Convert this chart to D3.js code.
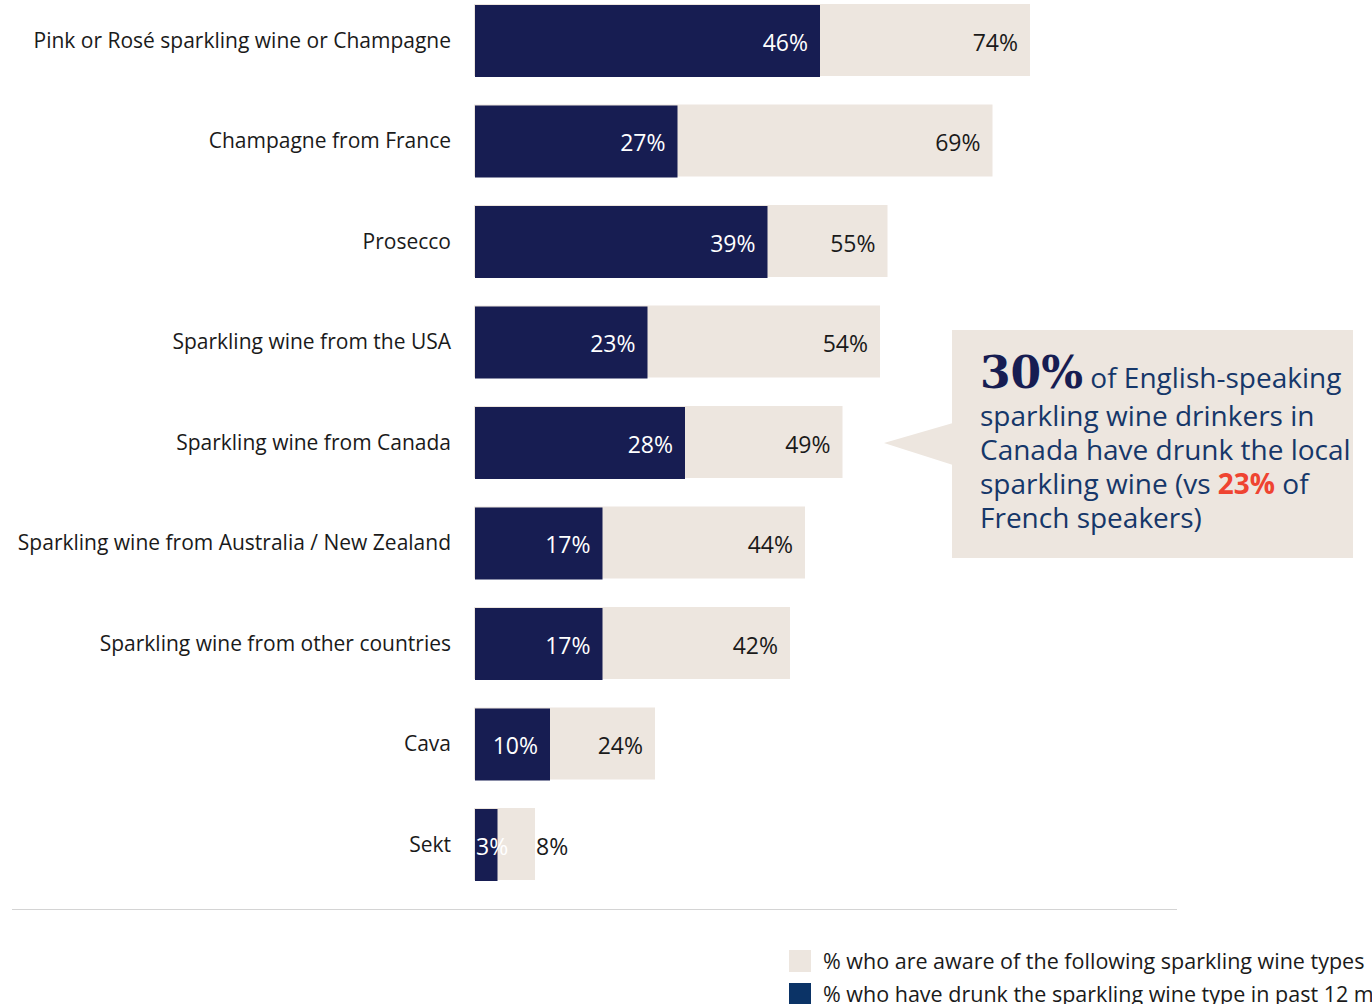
<!DOCTYPE html>
<html>
<head>
<meta charset="utf-8">
<script src="https://cdn.jsdelivr.net/npm/d3@7"></script>
<style>
  html, body { margin: 0; padding: 0; background: #fff; }
  svg { display: block; font-family: "Open Sans", "Noto Sans", sans-serif; }
</style>
</head>
<body>
<svg id="chart" width="1372" height="1004"></svg>
<script>
// Sparkling wine types, ordered by awareness
const categories = [
  "Pink or Rosé sparkling wine or Champagne",
  "Champagne from France",
  "Prosecco",
  "Sparkling wine from the USA",
  "Sparkling wine from Canada",
  "Sparkling wine from Australia / New Zealand",
  "Sparkling wine from other countries",
  "Cava",
  "Sekt"
];
// % who are aware of each type
const aware = [74, 69, 55, 54, 49, 44, 42, 24, 8];
// % who have drunk each type in the past 12 months
const drunk = [46, 27, 39, 23, 28, 17, 17, 10, 3];

const legendLabels = [
  "% who are aware of the following sparkling wine types",
  "% who have drunk the sparkling wine type in past 12 months"
];

const calloutLines = [
  [{t: "30%", big: true}, {t: " of English-speaking"}],
  [{t: "sparkling wine drinkers in"}],
  [{t: "Canada have drunk the local"}],
  [{t: "sparkling wine (vs "}, {t: "23%", red: true}, {t: " of"}],
  [{t: "French speakers)"}]
];
const calloutBaselines = [388, 426, 460, 494, 528];

const COL_DARK = "#171d52";
const COL_LIGHT = "#ede6df";
const COL_LEGEND_DARK = "#0b3366";
const COL_TEXT = "#1a1a1a";
const COL_NAVY = "#163769";
const COL_RED = "#ef4431";

const svg = d3.select("#chart");

const x = d3.scaleLinear().domain([0, 100]).range([475, 1225]);
const y = d3.scaleBand()
  .domain(categories)
  .range([4.5, 880.5])
  .paddingInner(28.5 / 100.5)
  .paddingOuter(0);

const rows = categories.map((c, i) => ({ c, aware: aware[i], drunk: drunk[i] }));

const g = svg.append("g");

// awareness bars (behind)
g.selectAll("rect.aware").data(rows).join("rect")
  .attr("class", "aware")
  .attr("x", x(0) - 1)
  .attr("y", d => y(d.c) - 0.5)
  .attr("width", d => x(d.aware) - x(0) + 1)
  .attr("height", y.bandwidth())
  .attr("fill", COL_LIGHT);

// consumption bars (front)
g.selectAll("rect.drunk").data(rows).join("rect")
  .attr("class", "drunk")
  .attr("x", x(0))
  .attr("y", d => y(d.c) + 0.5)
  .attr("width", d => x(d.drunk) - x(0))
  .attr("height", y.bandwidth())
  .attr("fill", COL_DARK);

// category labels
g.selectAll("text.cat").data(rows).join("text")
  .attr("class", "cat")
  .attr("x", 451)
  .attr("y", d => y(d.c) + y.bandwidth() / 2)
  .attr("dy", "0.35em")
  .attr("text-anchor", "end")
  .attr("font-size", 21)
  .attr("fill", COL_TEXT)
  .text(d => d.c);

// value labels on the dark bars
g.selectAll("text.vd").data(rows).join("text")
  .attr("class", "vd")
  .attr("y", d => y(d.c) + y.bandwidth() / 2 + 2)
  .attr("dy", "0.35em")
  .attr("text-anchor", "end")
  .attr("font-size", 23)
  .attr("fill", "#ffffff")
  .text(d => d.drunk + "%")
  .each(function(d) {
    const w = this.getComputedTextLength();
    const px = Math.max(x(d.drunk) - 12, x(0) + 1 + w);
    d.drunkLabelEnd = px;
    d3.select(this).attr("x", px);
  });

// value labels on the light bars
g.selectAll("text.va").data(rows).join("text")
  .attr("class", "va")
  .attr("y", d => y(d.c) + y.bandwidth() / 2 + 2)
  .attr("dy", "0.35em")
  .attr("font-size", 23)
  .attr("fill", COL_TEXT)
  .text(d => d.aware + "%")
  .each(function(d) {
    const w = this.getComputedTextLength();
    const inside = x(d.aware) - 12 - w > d.drunkLabelEnd + 8;
    d3.select(this)
      .attr("text-anchor", inside ? "end" : "start")
      .attr("x", inside ? x(d.aware) - 12 : x(d.aware) + 1);
  });

// separator rule
svg.append("line")
  .attr("x1", 12).attr("x2", 1177)
  .attr("y1", 909.5).attr("y2", 909.5)
  .attr("stroke", "#d4d4d4")
  .attr("stroke-width", 1);

// legend
const legend = svg.append("g");
const legendColors = [COL_LIGHT, COL_LEGEND_DARK];
legendLabels.forEach((lab, i) => {
  const ly = 950 + i * 33;
  legend.append("rect")
    .attr("x", 789).attr("y", ly)
    .attr("width", 22).attr("height", 22)
    .attr("fill", legendColors[i]);
  legend.append("text")
    .attr("x", 823).attr("y", ly + 11)
    .attr("dy", "0.35em")
    .attr("font-size", 21.5)
    .attr("fill", COL_TEXT)
    .text(lab);
});

// callout box with pointer
const callout = svg.append("g");
callout.append("rect")
  .attr("x", 952).attr("y", 330)
  .attr("width", 401).attr("height", 228)
  .attr("fill", COL_LIGHT);
callout.append("path")
  .attr("d", "M953,423 L884,443 L953,465 Z")
  .attr("fill", COL_LIGHT);

const ct = callout.append("text")
  .attr("font-size", 28)
  .attr("fill", COL_NAVY);
calloutLines.forEach((line, i) => {
  line.forEach((seg, j) => {
    const ts = ct.append("tspan").text(seg.t);
    if (j === 0) ts.attr("x", 980).attr("y", calloutBaselines[i]);
    if (seg.big) {
      ts.attr("font-family", "'DejaVu Serif', 'Liberation Serif', serif")
        .attr("font-weight", "bold")
        .attr("font-size", 44)
        .attr("fill", COL_DARK);
    }
    if (seg.red) {
      ts.attr("font-weight", "bold").attr("fill", COL_RED);
    }
  });
});
</script>
</body>
</html>
